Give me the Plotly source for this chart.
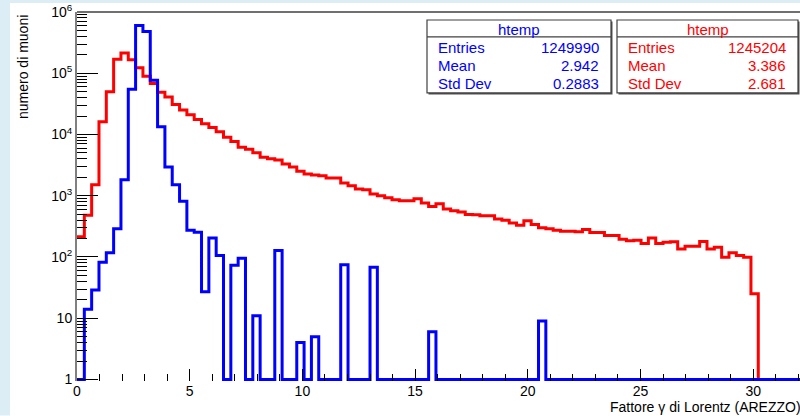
import plotly.graph_objects as go

# Histogram binning: 100 bins of width 0.325 starting at 0
N_BINS = 100
BIN_W = 0.325

# Bin contents (muon counts per bin)
red_counts = [
    213, 478, 1510, 16200, 50000, 170000, 214000, 166000, 123000, 89000,
    68000, 49000, 41000, 31000, 25000, 21000, 17500, 15000, 13000, 11100,
    9000, 7700, 6200, 5750, 5050, 4260, 4000, 3850, 3310, 2940,
    2500, 2260, 2190, 2110, 1950, 1950, 1620, 1450, 1290, 1250,
    1070, 1000, 930, 860, 830, 830, 890, 760, 670, 740,
    610, 570, 545, 495, 490, 473, 473, 418, 397, 360,
    330, 390, 338, 299, 288, 273, 263, 263, 257, 280,
    252, 252, 224, 224, 195, 184, 187, 166, 205, 166,
    174, 178, 135, 150, 150, 179, 135, 144, 99, 117,
    106, 99, 25, 0, 0, 0, 0, 0, 0, 0,
]

blue_counts = [
    0, 14, 29, 82, 117, 288, 1820, 55000, 600000, 480000,
    77000, 13400, 2940, 1510, 810, 272, 253, 27, 205, 106,
    0, 73, 95, 0, 11, 0, 0, 127, 0, 0,
    4, 0, 5, 0, 0, 0, 75, 0, 0, 0,
    68, 0, 0, 0, 0, 0, 0, 0, 6, 0,
    0, 0, 0, 0, 0, 0, 0, 0, 0, 0,
    0, 0, 0, 9, 0, 0, 0, 0, 0, 0,
    0, 0, 0, 0, 0, 0, 0, 0, 0, 0,
    0, 0, 0, 0, 0, 0, 0, 0, 0, 0,
    0, 0, 0, 0, 0, 0, 0, 0, 0, 0,
]

# Statistics boxes
stat_names = ["Entries", "Mean", "Std Dev"]
blue_stats = ["1249990", "2.942", "0.2883"]
red_stats = ["1245204", "3.386", "2.681"]
hist_title = "htemp"

x_ticks = [0, 5, 10, 15, 20, 25, 30]
y_ticks = [1, 10, 100, 1000, 10000, 100000, 1000000]
y_ticktext = ["1", "10", "10<sup>2</sup>", "10<sup>3</sup>", "10<sup>4</sup>",
              "10<sup>5</sup>", "10<sup>6</sup>"]

RED = "#ff0000"
BLUE = "#0000ff"
FONT = "Liberation Sans, Arial, Helvetica, sans-serif"

# Empty bins sit on the bottom of the log axis
FLOOR = 1


def step_xy(counts):
    edges = [i * BIN_W for i in range(N_BINS + 1)]
    ys = [c if c > 0 else FLOOR for c in counts]
    return edges, ys + [ys[-1]]


# Plot-area geometry in pixels
W, H = 800, 416
L, R, T, B = 77, 800, 12, 381.5


def px(x):
    return (x - L) / (R - L)


def py(y):
    return (B - y) / (B - T)


fig = go.Figure()

for counts, color in ((red_counts, RED), (blue_counts, BLUE)):
    xs, ys = step_xy(counts)
    fig.add_trace(go.Scatter(x=xs, y=ys, mode="lines",
                             line=dict(color=color, width=3, shape="hv"),
                             hoverinfo="skip", showlegend=False))

shapes = [
    # light-blue canvas edges
    dict(type="rect", xref="paper", yref="paper", x0=px(0), x1=px(10),
         y0=py(H), y1=py(0), fillcolor="#dcedf6", line=dict(width=0), layer="below"),
    dict(type="rect", xref="paper", yref="paper", x0=px(0), x1=px(W),
         y0=py(3), y1=py(0), fillcolor="#dcedf6", line=dict(width=0), layer="below"),
    # top border of the frame
    dict(type="line", xref="paper", yref="paper", x0=0, x1=1, y0=1, y1=1,
         line=dict(color="#707070", width=2)),
]

annotations = []


def stats_box(x0, x1, y0, y1, color, values):
    shapes.append(dict(type="rect", xref="paper", yref="paper",
                       x0=px(x0 + 1.5), x1=px(x1 + 1.5), y0=py(y1 + 1.5), y1=py(y0 + 1.5),
                       fillcolor="#505050", line=dict(width=0)))
    shapes.append(dict(type="rect", xref="paper", yref="paper",
                       x0=px(x0), x1=px(x1), y0=py(y1), y1=py(y0),
                       fillcolor="white", line=dict(color="#404040", width=1.2)))
    shapes.append(dict(type="line", xref="paper", yref="paper",
                       x0=px(x0), x1=px(x1), y0=py(y0 + 17), y1=py(y0 + 17),
                       line=dict(color="#404040", width=1.2)))
    annotations.append(dict(text=hist_title, xref="paper", yref="paper",
                            x=px((x0 + x1) / 2), y=py(y0 + 9.5), xanchor="center",
                            yanchor="middle", showarrow=False,
                            font=dict(family=FONT, size=15, color=color)))
    for i, (name, val) in enumerate(zip(stat_names, values)):
        yc = y0 + 27.5 + i * 18.2
        annotations.append(dict(text=name, xref="paper", yref="paper",
                                x=px(x0 + 9), y=py(yc), xanchor="left", yanchor="middle",
                                showarrow=False, font=dict(family=FONT, size=15, color=color)))
        annotations.append(dict(text=val, xref="paper", yref="paper",
                                x=px(x1 - 10), y=py(yc), xanchor="right", yanchor="middle",
                                showarrow=False, font=dict(family=FONT, size=15, color=color)))


stats_box(427, 611, 20, 93, BLUE, blue_stats)
stats_box(617, 798, 20, 93, RED, red_stats)

annotations.append(dict(text="numero di muoni", xref="paper", yref="paper",
                        x=px(23), y=py(13), xanchor="center", yanchor="top",
                        textangle=-90, showarrow=False,
                        font=dict(family=FONT, size=14, color="black")))
annotations.append(dict(text="Fattore γ di Lorentz (AREZZO)", xref="paper", yref="paper",
                        x=px(608), y=py(408), xanchor="left", yanchor="middle",
                        showarrow=False, font=dict(family=FONT, size=14, color="black")))

minor_y = [m * 10 ** d for d in range(6) for m in range(2, 10)]
minor_x = [v for v in range(1, 33) if v % 5 != 0]

fig.update_layout(
    width=W, height=H,
    margin=dict(l=L, r=W - R, t=T, b=H - B, pad=0),
    paper_bgcolor="white", plot_bgcolor="white",
    shapes=shapes, annotations=annotations,
    font=dict(family=FONT, size=14, color="black"),
    xaxis=dict(range=[0, (R - L) / 22.54], showgrid=False, zeroline=False,
               showline=False, ticks="inside", ticklen=12, tickwidth=1,
               tickcolor="black", tickvals=x_ticks, ticktext=[str(v) for v in x_ticks],
               tickfont=dict(family=FONT, size=14, color="black"),
               minor=dict(tickvals=minor_x, ticks="inside", ticklen=7,
                          tickcolor="black", tickwidth=1, showgrid=False)),
    yaxis=dict(type="log", range=[-0.025, 6], showgrid=False, zeroline=False,
               showline=True, linecolor="#808080", linewidth=2,
               ticks="inside", ticklen=21, tickwidth=1, tickcolor="black",
               tickvals=y_ticks, ticktext=y_ticktext,
               tickfont=dict(family=FONT, size=14, color="black"),
               minor=dict(tickvals=minor_y, ticks="inside", ticklen=10,
                          tickcolor="black", tickwidth=1, showgrid=False)),
)

fig.write_html("out.html")
